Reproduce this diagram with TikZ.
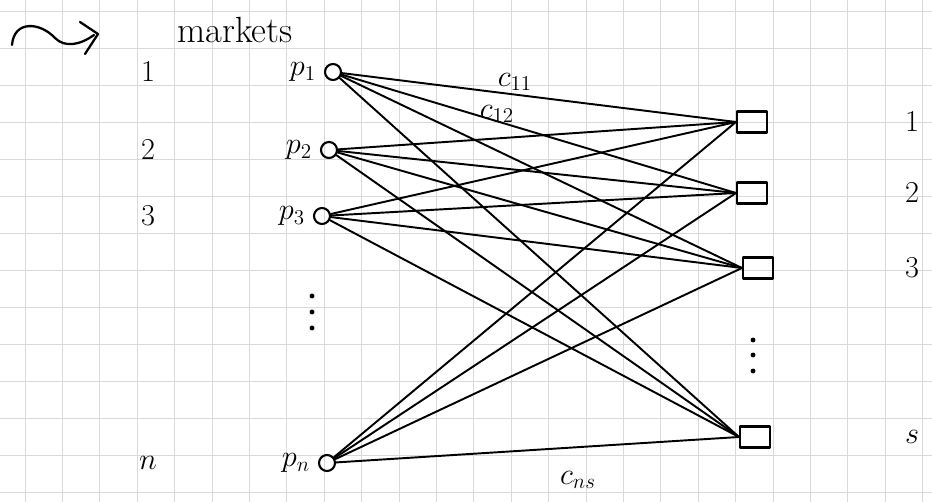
\documentclass[tikz,border=0pt]{standalone}
\usetikzlibrary{positioning}
\begin{document}
\begin{tikzpicture}[x=0.02cm,y=-0.02cm,line join=round,line cap=round,
	vtx/.style={draw,circle,line width=1.2pt,minimum size=0.32cm,inner sep=0pt},
	mkt/.style={draw,rectangle,line width=1.2pt,minimum width=0.6cm,minimum height=0.42cm,inner sep=0pt},
	lbl/.style={font=\LARGE}]
	\useasboundingbox (0,0) rectangle (932,502);
	% paper grid
	\foreach \x in {0,...,24} \draw[gray!30] (25+37.4*\x,0)--(25+37.4*\x,502);
	\foreach \y in {0,...,13} \draw[gray!30] (0,11+37*\y)--(932,11+37*\y);
	% squiggle arrow and title
	\draw[line width=1.3pt] (12,45) .. controls (14,20) and (40,22) .. (55,38) .. controls (65,48) and (80,45) .. (94,35)
		(80,22)--(98,34)--(85,54);
	\node[font=\huge] (title) at (235,30) {markets};
	% producers and markets
	\foreach \n/\x/\y/\t/\k in {p1/333/72/p_1/1,p2/329/150/p_2/2,p3/322/216/p_3/3,pn/327/463/p_n/n}{
		\node[vtx] (\n) at (\x,\y) {};
		\node[lbl,left=1pt of \n] (l\n) {$\t$};
		\node[lbl] (k\n) at (148,\y) {$\k$};}
	\foreach \m/\x/\y/\t in {m1/752/122/1,m2/752/193/2,m3/758/268/3,ms/755/437/s}{
		\node[mkt] (\m) at (\x,\y) {};
		\node[lbl] (k\m) at (912,\y) {$\t$};}
	% all transport links
	\foreach \i in {p1,p2,p3,pn}
	\foreach \j in {m1,m2,m3,ms}
	\draw[line width=1.1pt] (\i)--(\j.west);
	\node[lbl] (c11) at (515,82) {$c_{11}$};
	\node[lbl] (c12) at (497,114) {$c_{12}$};
	\node[lbl] (cns) at (578,480) {$c_{ns}$};
	\foreach \y in {296,312,328} \fill (312,\y) circle (1.4pt);
	\foreach \y in {340,355,371} \fill (753,\y) circle (1.4pt);
\end{tikzpicture}
\end{document}
